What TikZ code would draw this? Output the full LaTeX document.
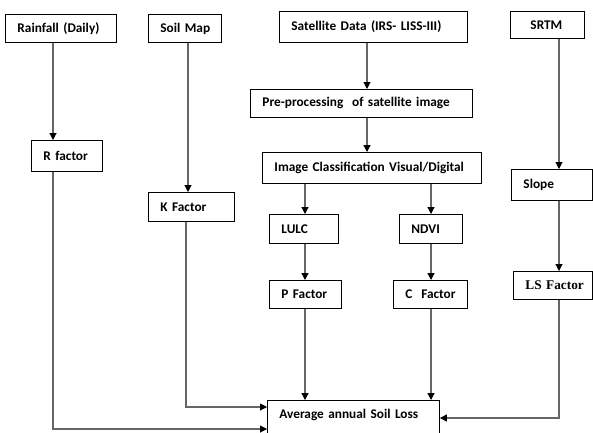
\documentclass[tikz,border=0pt]{standalone}
\usepackage{fontspec}
\setmainfont{Carlito}
\newfontfamily\timesfont{Liberation Serif}
\usetikzlibrary{arrows.meta}
\begin{document}
\begin{tikzpicture}[x=1pt,y=-1pt,
  bx/.style={draw=black, line width=0.9pt, anchor=north west, inner xsep=12pt, inner ysep=0pt,
    align=left, font=\fontsize{13.3}{15}\selectfont\bfseries, text=black},
  conn/.style={draw=black!60, line width=1.1pt, -{Triangle[width=7pt,length=7pt,color=black]}}]
\useasboundingbox (0,0) rectangle (593,432);
\clip (0,0) rectangle (593,432);
% boxes: (x1,y1), width, height
\node[bx, text width=87pt, minimum height=28pt] (rain) at (5,14) {\mbox{Rainfall (Daily)}};
\node[bx, text width=49pt, minimum height=28pt] (soil) at (148,14) {\mbox{Soil Map}};
\node[bx, text width=164pt, minimum height=31pt] (sat) at (279,11) {\mbox{Satellite Data (IRS- LISS-III)}};
\node[bx, inner xsep=20pt, text width=34pt, minimum height=27pt] (srtm) at (510,11) {\mbox{SRTM}};
\node[bx, text width=198pt, minimum height=28pt] (pre) at (250,89) {\mbox{Pre-processing\ \ of satellite image}};
\node[bx, text width=195pt, minimum height=31pt] (img) at (262,152) {\mbox{Image Classification Visual/Digital}};
\node[bx, text width=57pt, minimum height=31pt] (slope) at (511,169) {\mbox{Slope}};
\node[bx, text width=47pt, minimum height=31pt] (r) at (31,140) {\mbox{R factor}};
\node[bx, text width=62pt, minimum height=29pt] (k) at (148,192) {\mbox{K Factor}};
\node[bx, text width=45pt, minimum height=29pt] (lulc) at (269,214) {\mbox{LULC}};
\node[bx, text width=39pt, minimum height=29pt] (ndvi) at (399,214) {\mbox{NDVI}};
\node[bx, text width=48pt, minimum height=28pt] (p) at (269,280) {\mbox{P Factor}};
\node[bx, text width=50pt, minimum height=28pt] (c) at (393,280) {\mbox{C\ \ Factor}};
\node[bx, text width=55pt, minimum height=28pt, font=\fontsize{13.3}{15}\selectfont\timesfont\bfseries] (ls) at (513,271) {\mbox{LS Factor}};
\node[bx, text width=148pt, minimum height=38pt, text depth=12pt] (avg) at (267,400) {\mbox{Average annual Soil Loss}};
% connectors
\draw[conn] (rain.south -| 53,0) -- (r.north -| 53,0);
\draw[conn] (soil.south -| 188,0) -- (k.north -| 188,0);
\draw[conn] (sat.south -| 367,0) -- (pre.north -| 367,0);
\draw[conn] (pre.south -| 367,0) -- (img.north -| 367,0);
\draw[conn] (img.south -| 305,0) -- (lulc.north -| 305,0);
\draw[conn] (img.south -| 431,0) -- (ndvi.north -| 431,0);
\draw[conn] (srtm.south -| 559,0) -- (slope.north -| 559,0);
\draw[conn] (slope.south -| 559,0) -- (ls.north -| 559,0);
\draw[conn] (lulc.south -| 305,0) -- (p.north -| 305,0);
\draw[conn] (ndvi.south -| 431,0) -- (c.north -| 431,0);
\draw[conn] (p.south -| 305,0) -- (avg.north -| 305,0);
\draw[conn] (c.south -| 431,0) -- (avg.north -| 431,0);
\draw[conn] (ls.south -| 559,0) -- (559,418) -- (avg.east |- 0,418);
\draw[conn] (k.south -| 186,0) -- (186,407) -- (avg.west |- 0,407);
\draw[conn] (r.south -| 53,0) -- (53,429) -- (avg.west |- 0,429);
\end{tikzpicture}
\end{document}
